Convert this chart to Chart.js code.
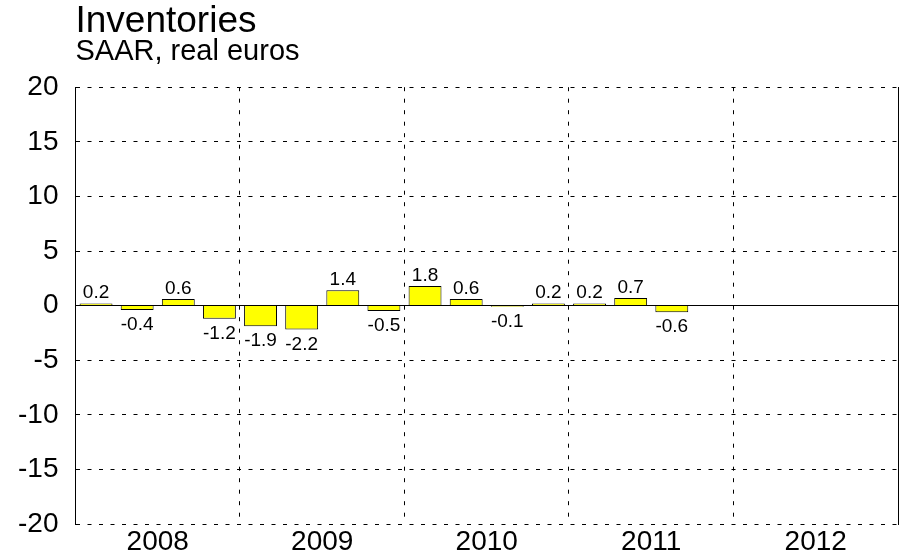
<!DOCTYPE html>
<html>
<head>
<meta charset="utf-8">
<script src="https://cdn.jsdelivr.net/npm/chart.js@4"></script>
<style>
  html, body { margin: 0; padding: 0; background: #fff; }
  #wrap { width: 907px; height: 560px; }
</style>
</head>
<body>
<div id="wrap"><canvas id="chart" width="907" height="560"></canvas></div>
<script>
const years = ['2008', '2009', '2010', '2011', '2012'];
const quarters = years.flatMap(y => [y + 'Q1', y + 'Q2', y + 'Q3', y + 'Q4']);
const inventarios = [0.2, -0.4, 0.6, -1.2, -1.9, -2.2, 1.4, -0.5, 1.8, 0.6, -0.1, 0.2, 0.2, 0.7, -0.6,
    null, null, null, null, null];
const yTicks = [-20, -15, -10, -5, 0, 5, 10, 15, 20];

const FONT = 'Liberation Sans, Arial, sans-serif';
const DASH = [4, 7.5];

// etiquetas encima / debajo de cada barra
const etiquetas = {
    id: 'etiquetas',
    afterDatasetsDraw(chart) {
        const ctx = chart.ctx;
        const meta = chart.getDatasetMeta(0);
        ctx.save();
        ctx.font = '19px ' + FONT;
        ctx.fillStyle = '#000';
        ctx.textAlign = 'center';
        ctx.textBaseline = 'alphabetic';
        meta.data.forEach((bar, i) => {
            const v = inventarios[i];
            if (v === null) return;
            if (v >= 0) {
                ctx.fillText(v.toFixed(1), bar.x, bar.y - 5);
            } else {
                ctx.fillText(v.toFixed(1), bar.x, bar.y + 20);
            }
        });
        ctx.restore();
    }
};

new Chart(document.getElementById('chart'), {
    type: 'bar',
    data: {
        labels: quarters,
        datasets: [{
            data: inventarios,
            backgroundColor: '#ffff00',
            borderColor: '#000',
            borderWidth: 1,
            categoryPercentage: 1,
            barPercentage: 0.8
        }]
    },
    options: {
        responsive: false,
        animation: false,
        layout: { padding: { left: 1, right: 9, top: 0, bottom: 0 } },
        plugins: {
            legend: { display: false },
            tooltip: { enabled: false },
            title: {
                display: true,
                text: 'Inventories',
                align: 'start',
                fullSize: false,
                color: '#000',
                font: { family: FONT, size: 37, weight: 'normal', lineHeight: 1 },
                padding: { top: 3, bottom: 0 }
            },
            subtitle: {
                display: true,
                text: 'SAAR, real euros',
                align: 'start',
                fullSize: false,
                color: '#000',
                font: { family: FONT, size: 29, weight: 'normal', lineHeight: 0.8 },
                padding: { top: 0, bottom: 24 }
            }
        },
        scales: {
            x: {
                offset: true,
                border: { display: false, dash: DASH },
                grid: {
                    offset: true,
                    drawTicks: false,
                    color: c => (c.index % 4 === 0 && c.index > 0) ? '#000' : 'rgba(0,0,0,0)',
                    lineWidth: 1
                },
                ticks: {
                    autoSkip: false,
                    maxRotation: 0,
                    color: '#000',
                    font: { family: FONT, size: 28, lineHeight: 1 },
                    padding: 4,
                    labelOffset: 20.55,
                    callback: (v, i) => i % 4 === 1 ? years[Math.floor(i / 4)] : ''
                }
            },
            y: {
                min: -20,
                max: 20,
                afterBuildTicks: axis => { axis.ticks = yTicks.map(v => ({ value: v })); },
                border: {
                    display: true,
                    color: '#000',
                    width: 1,
                    dash: c => c.tick && c.tick.value === 0 ? [] : DASH
                },
                grid: {
                    drawTicks: false,
                    color: '#000',
                    lineWidth: 1
                },
                ticks: {
                    color: '#000',
                    font: { family: FONT, size: 28 },
                    padding: 17
                }
            },
            yDer: {
                position: 'right',
                min: -20,
                max: 20,
                border: { display: true, color: '#000', width: 1 },
                grid: { display: false, drawTicks: false },
                ticks: { display: false }
            }
        }
    },
    plugins: [etiquetas]
});
</script>
</body>
</html>
